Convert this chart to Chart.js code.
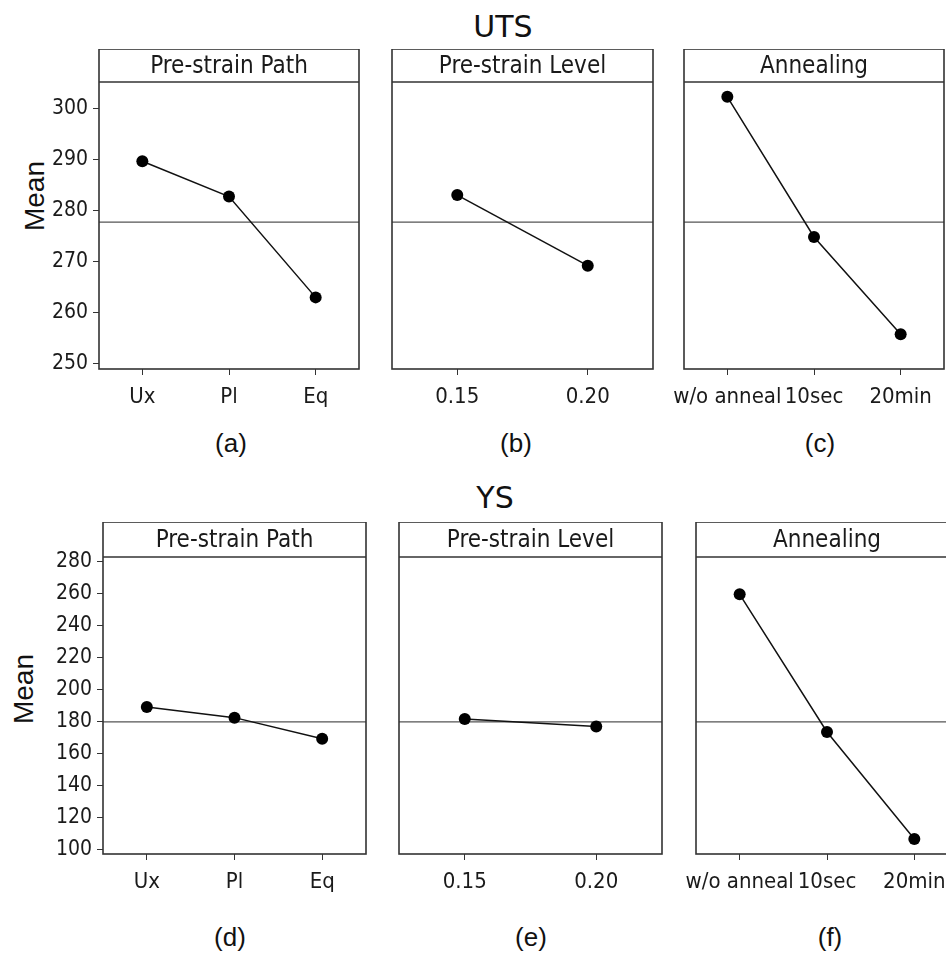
<!DOCTYPE html>
<html>
<head>
<meta charset="utf-8">
<script src="https://cdn.jsdelivr.net/npm/chart.js@4.4.0/dist/chart.umd.min.js"></script>
<style>
  html, body { margin: 0; padding: 0; background: #fff; overflow: hidden; }
  body { width: 946px; height: 955px; position: relative; }
  canvas { position: absolute; }
  .txt { position: absolute; color: #111; white-space: nowrap; transform: translate(-50%, -50%); }
  .big { font: 30px "DejaVu Sans", sans-serif; }
  .lab { font: 26px "Liberation Sans", Arial, sans-serif; }
  .mean { font: 28px "Liberation Sans", Arial, sans-serif; transform: translate(-50%, -50%) rotate(-90deg); }
</style>
</head>
<body>
<div class="txt big" style="left:503px; top:26px">UTS</div>
<div class="txt big" style="left:495px; top:497px">YS</div>
<div class="txt mean" style="left:35px; top:196px">Mean</div>
<div class="txt mean" style="left:24px; top:689px">Mean</div>
<div class="txt lab" style="left:231px; top:443px">(a)</div>
<div class="txt lab" style="left:516px; top:443px">(b)</div>
<div class="txt lab" style="left:820px; top:443px">(c)</div>
<div class="txt lab" style="left:230px; top:937px">(d)</div>
<div class="txt lab" style="left:531px; top:937px">(e)</div>
<div class="txt lab" style="left:830px; top:937px">(f)</div>

<canvas id="a"></canvas>
<canvas id="b"></canvas>
<canvas id="c"></canvas>
<canvas id="d"></canvas>
<canvas id="e"></canvas>
<canvas id="f"></canvas>

<script>
// factor levels
const pathLabels = ['Ux', 'Pl', 'Eq'];
const levelLabels = ['0.15', '0.20'];
const annealLabels = ['w/o anneal', '10sec', '20min'];

// main effects, UTS
const utsPath = [289.6, 282.7, 263.0];
const utsLevel = [283.0, 269.2];
const utsAnneal = [302.2, 274.8, 255.8];
const utsMean = 277.7;
const utsTicks = [250, 260, 270, 280, 290, 300];

// main effects, YS
const ysPath = [189.0, 182.3, 169.1];
const ysLevel = [181.4, 176.8];
const ysAnneal = [259.5, 173.3, 106.3];
const ysMean = 179.6;
const ysTicks = [100, 120, 140, 160, 180, 200, 220, 240, 260, 280];

const frameColor = '#333';
const tickFont = '"DejaVu Sans Condensed", "DejaVu Sans"';
const axisW = 90;   // room left of each panel for the y axis
const axisH = 50;   // room under each panel for the x axis
const padR = 20;

// header strip ("Pre-strain Path" etc.) and the panel frame
const stripPlugin = {
    id: 'strip',
    afterDraw(chart, args, opts) {
        const {ctx, chartArea} = chart;
        const {left, right, top, bottom} = chartArea;
        const h = opts.height;
        ctx.save();
        ctx.strokeStyle = frameColor;
        ctx.lineWidth = 1.6;
        ctx.strokeRect(left, top - h, right - left, bottom - top + h);
        ctx.beginPath();
        ctx.moveTo(left, top);
        ctx.lineTo(right, top);
        ctx.stroke();
        ctx.fillStyle = '#1a1a1a';
        ctx.font = '24px ' + tickFont;
        ctx.textAlign = 'center';
        ctx.textBaseline = 'middle';
        ctx.fillText(opts.text, (left + right) / 2, top - h / 2 + 1);
        ctx.restore();
    }
};

const makePanel = function (id, p) {
    const canvas = document.getElementById(id);
    canvas.width = axisW + p.w + padR;
    canvas.height = p.head + p.plotH + axisH;
    canvas.style.left = (p.x - axisW) + 'px';
    canvas.style.top = p.y + 'px';

    const n = p.labels.length;
    const xMin = -0.5, xMax = n - 0.5;

    return new Chart(canvas.getContext('2d'), {
        type: 'line',
        data: {
            datasets: [{
                data: p.values.map((v, i) => ({x: i, y: v})),
                borderColor: '#111',
                borderWidth: 1.5,
                backgroundColor: '#000',
                pointRadius: 6,
                pointBorderWidth: 0,
                order: 1
            }, {
                data: [{x: xMin, y: p.mean}, {x: xMax, y: p.mean}],
                borderColor: '#555',
                borderWidth: 1.3,
                pointRadius: 0,
                order: 2
            }]
        },
        options: {
            responsive: false,
            animation: false,
            devicePixelRatio: 1,
            layout: {padding: {top: p.head, right: padR, left: 0, bottom: 0}},
            plugins: {
                legend: {display: false},
                tooltip: {enabled: false},
                strip: {text: p.title, height: p.head}
            },
            scales: {
                x: {
                    type: 'linear',
                    min: xMin,
                    max: xMax,
                    afterBuildTicks: s => { s.ticks = p.labels.map((_, i) => ({value: i})); },
                    afterFit: s => { s.height = axisH; },
                    border: {display: false},
                    grid: {drawOnChartArea: false, drawTicks: true, tickLength: 6, color: frameColor},
                    ticks: {
                        callback: v => p.labels[v],
                        autoSkip: false,
                        maxRotation: 0,
                        padding: 9,
                        color: '#1a1a1a',
                        font: {family: tickFont, size: 22}
                    }
                },
                y: {
                    min: p.yMin,
                    max: p.yMax,
                    afterBuildTicks: s => { s.ticks = p.ticks.map(v => ({value: v})); },
                    afterFit: s => { s.width = axisW; },
                    border: {display: false},
                    grid: {
                        display: p.showY,
                        drawOnChartArea: false,
                        drawTicks: true,
                        tickLength: 6,
                        color: frameColor
                    },
                    ticks: {
                        display: p.showY,
                        padding: 5,
                        color: '#1a1a1a',
                        font: {family: tickFont, size: 21}
                    }
                }
            }
        },
        plugins: [stripPlugin]
    });
};

const top1 = {y: 49, head: 33, plotH: 287, yMin: 249.0, yMax: 305.1, ticks: utsTicks, mean: utsMean};
const top2 = {y: 522, head: 35, plotH: 297, yMin: 96.9, yMax: 282.9, ticks: ysTicks, mean: ysMean};

makePanel('a', {...top1, x: 99, w: 260, title: 'Pre-strain Path', labels: pathLabels, values: utsPath, showY: true});
makePanel('b', {...top1, x: 392, w: 261, title: 'Pre-strain Level', labels: levelLabels, values: utsLevel, showY: false});
makePanel('c', {...top1, x: 684, w: 260, title: 'Annealing', labels: annealLabels, values: utsAnneal, showY: false});
makePanel('d', {...top2, x: 103, w: 263, title: 'Pre-strain Path', labels: pathLabels, values: ysPath, showY: true});
makePanel('e', {...top2, x: 399, w: 263, title: 'Pre-strain Level', labels: levelLabels, values: ysLevel, showY: false});
makePanel('f', {...top2, x: 696, w: 262, title: 'Annealing', labels: annealLabels, values: ysAnneal, showY: false});
</script>
</body>
</html>
